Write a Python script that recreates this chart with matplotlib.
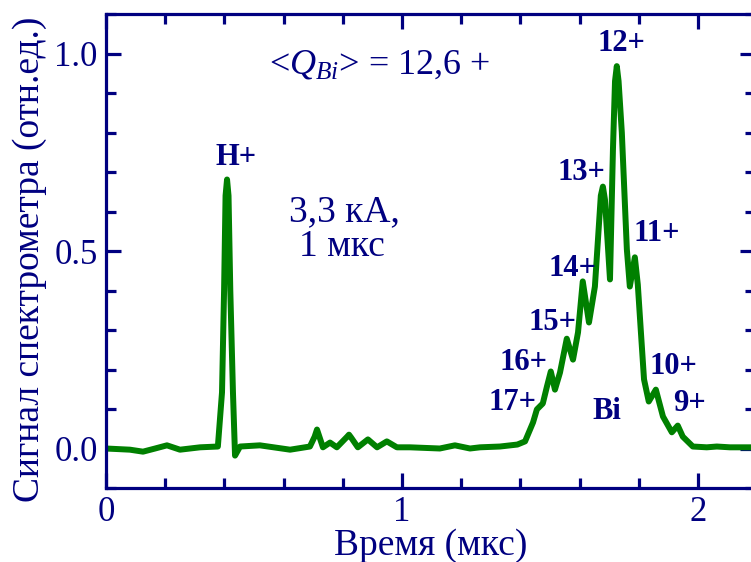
import matplotlib
matplotlib.use("Agg")
import matplotlib.pyplot as plt
from matplotlib.ticker import MultipleLocator, FormatStrFormatter

plt.rcParams['font.family'] = ['Liberation Serif', 'DejaVu Serif']
plt.rcParams['mathtext.fontset'] = 'custom'
plt.rcParams['mathtext.rm'] = 'Liberation Serif'
plt.rcParams['mathtext.it'] = 'Liberation Serif:italic'

navy = '#000080'
green = '#008000'

# time of flight (мкс) and signal (отн.ед.)
time_us = [0.000, 0.081, 0.125, 0.166, 0.206, 0.250, 0.318, 0.378, 0.392, 0.399,
           0.404, 0.409, 0.414, 0.420, 0.429, 0.436, 0.453, 0.520, 0.622, 0.689,
           0.705, 0.713, 0.721, 0.733, 0.757, 0.780, 0.815, 0.821, 0.828, 0.851,
           0.885, 0.916, 0.949, 0.983, 1.027, 1.128, 1.179, 1.230, 1.264, 1.331,
           1.390, 1.416, 1.443, 1.456, 1.476, 1.490, 1.503, 1.517, 1.534, 1.557,
           1.578, 1.595, 1.611, 1.632, 1.652, 1.672, 1.679, 1.686, 1.703, 1.713,
           1.720, 1.726, 1.732, 1.743, 1.760, 1.770, 1.787, 1.797, 1.807, 1.818,
           1.834, 1.858, 1.882, 1.912, 1.932, 1.949, 1.983, 2.030, 2.064, 2.108,
           2.200]
signal = [0.000, -0.003, -0.008, 0.000, 0.008, -0.003, 0.003, 0.005, 0.142, 0.400,
          0.640, 0.681, 0.640, 0.400, 0.142, -0.018, 0.005, 0.008, -0.003, 0.005,
          0.030, 0.048, 0.030, 0.003, 0.015, 0.003, 0.030, 0.035, 0.028, 0.003,
          0.023, 0.003, 0.018, 0.003, 0.003, 0.000, 0.008, 0.000, 0.003, 0.005,
          0.010, 0.018, 0.066, 0.099, 0.114, 0.157, 0.195, 0.149, 0.192, 0.278,
          0.225, 0.294, 0.423, 0.319, 0.410, 0.640, 0.663, 0.630, 0.428, 0.757,
          0.930, 0.968, 0.930, 0.800, 0.504, 0.410, 0.484, 0.415, 0.300, 0.175,
          0.119, 0.149, 0.081, 0.041, 0.058, 0.030, 0.005, 0.003, 0.005, 0.003,
          0.003]

peak_labels = ['H+', '12+', '13+', '11+', '14+', '15+', '16+', '17+', 'Bi', '10+', '9+']
peak_x = [0.439, 1.743, 1.605, 1.861, 1.578, 1.510, 1.412, 1.372, 1.693, 1.919, 1.973]
peak_y = [0.737, 1.025, 0.699, 0.544, 0.456, 0.319, 0.218, 0.116, 0.094, 0.208, 0.114]

fig = plt.figure(figsize=(7.51, 5.62), dpi=100)
ax = fig.add_axes([106 / 751, 74 / 562, 649 / 751, 474 / 562])

ax.plot(time_us, signal, color=green, lw=4.3, solid_joinstyle='round',
        solid_capstyle='round')

ax.set_xlim(0, 2.193)
ax.set_ylim(-0.1, 1.1)
ax.xaxis.set_major_locator(MultipleLocator(1))
ax.xaxis.set_minor_locator(MultipleLocator(0.2))
ax.yaxis.set_major_locator(MultipleLocator(0.5))
ax.yaxis.set_minor_locator(MultipleLocator(0.1))
ax.yaxis.set_major_formatter(FormatStrFormatter('%.1f'))

for s in ax.spines.values():
    s.set_color(navy)
    s.set_linewidth(2.3)
ax.tick_params(which='both', direction='in', top=True, right=True,
               color=navy, labelcolor=navy, width=2.3)
ax.tick_params(which='major', length=11, labelsize=25, pad=6)
ax.tick_params(which='minor', length=7)

ax.set_xlabel('Время (мкс)', fontsize=27, color=navy, labelpad=-1)
ax.set_ylabel('Сигнал спектрометра (отн.ед.)', fontsize=27, color=navy)
ax.yaxis.set_label_coords(-0.091, 0.482)

for lab, x, y in zip(peak_labels, peak_x, peak_y):
    ax.text(x, y, lab, fontsize=22, fontweight='bold', color=navy,
            ha='center', va='center')

ax.text(0.926, 0.972, r'<$Q_{Bi}$> = 12,6 +', fontsize=26, color=navy,
        ha='center', va='center')
ax.text(0.807, 0.600, '3,3 кА,', fontsize=27, color=navy, ha='center', va='center')
ax.text(0.797, 0.510, '1 мкс', fontsize=27, color=navy, ha='center', va='center')

fig.savefig('out.png', dpi=100)
